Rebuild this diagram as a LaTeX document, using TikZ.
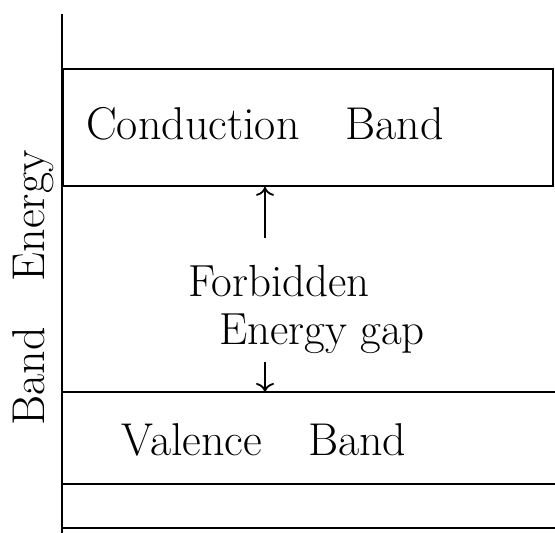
\documentclass[tikz,border=0pt]{standalone}
\usetikzlibrary{arrows.meta}
\begin{document}
\begin{tikzpicture}[x=1pt,y=-1pt,line width=1.8pt,
  hand/.style={font=\fontsize{46}{50}\selectfont, inner sep=0pt},
  gaptext/.style={font=\fontsize{45}{50}\selectfont, inner sep=0pt},
  gaparrow/.style={-{To[length=9pt,width=18pt]}}]
\useasboundingbox (0,0) rectangle (555,533);
\fill[white] (0,0) rectangle (555,533);
% energy axis
\coordinate (axtop) at (62,14);
\coordinate (axbot) at (62,533);
\draw (axtop) -- (axbot);
\node[hand, rotate=90] (axis) at (33,288) {Band\quad Energy};
% conduction band
\node[draw, line width=1.8pt, minimum width=490pt, minimum height=117pt, inner sep=0pt, anchor=north west] (cb) at (62,68) {};
\node[hand] (cbt) at (265,124) {Conduction\quad Band};
% forbidden gap
\node[gaptext] (forb) at (279,281) {Forbidden};
\node[gaptext] (egap) at (322,334) {Energy gap};
% valence band
\node[minimum width=493pt, minimum height=90pt, inner sep=0pt, anchor=north west] (vb) at (62,392) {};
\draw (vb.north west) -- (vb.north east);
\draw (vb.south west) -- (vb.south east);
\node[hand] (vbt) at (264,440) {Valence\quad Band};
\coordinate (low) at (555,528);
\draw (vb.south west |- low) -- (low);
% arrows
\coordinate (upstart) at (265,238);
\draw[gaparrow] (upstart) -- (upstart |- cb.south);
\coordinate (dnstart) at (265,362);
\draw[gaparrow] (dnstart) -- (dnstart |- vb.north);
\end{tikzpicture}
\end{document}
